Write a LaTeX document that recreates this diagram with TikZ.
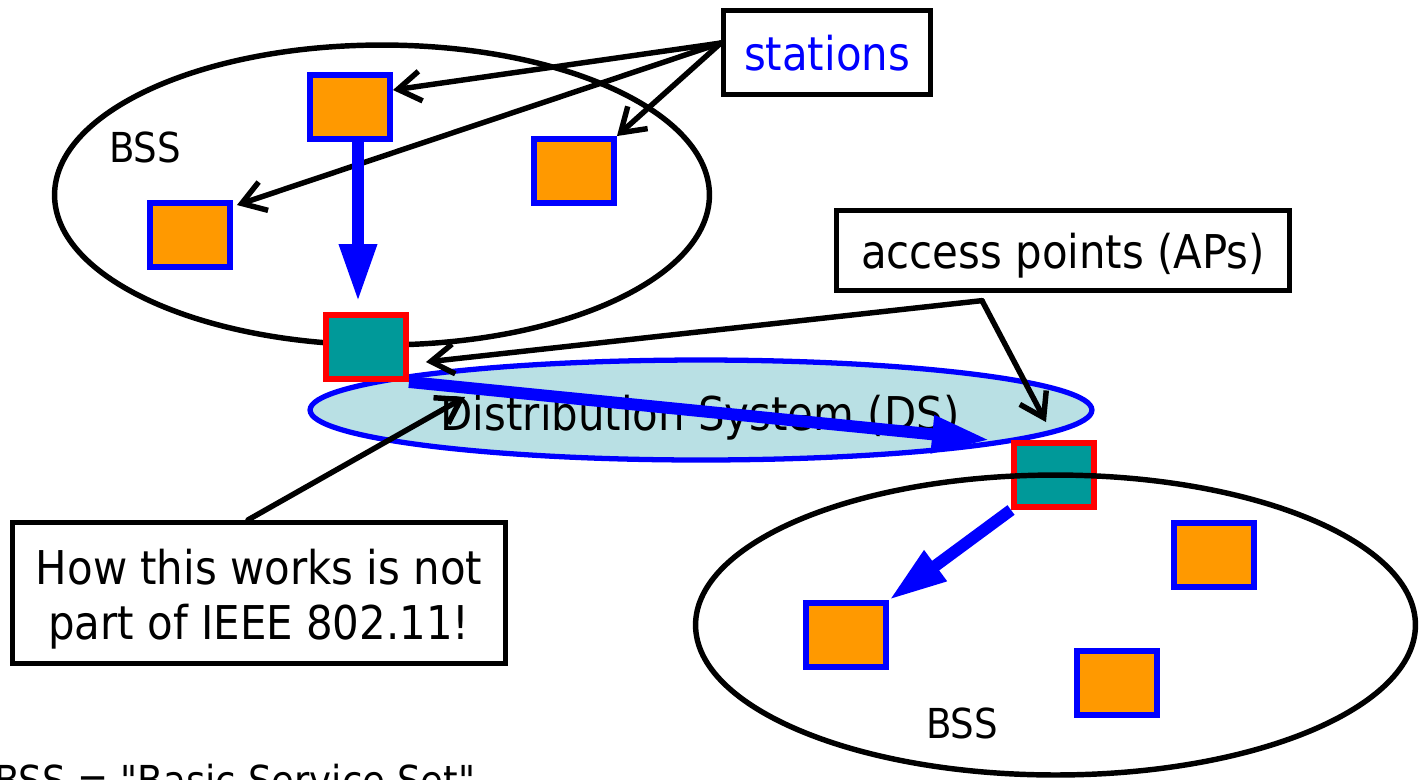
\documentclass[tikz,border=0pt]{standalone}
\usepackage{fontspec}
\setmainfont{DejaVu Sans Condensed}[Ligatures=TeXOff]
\usepackage{tikz}
\usetikzlibrary{arrows.meta,shapes.geometric}
\definecolor{stationorange}{RGB}{255,153,0}
\definecolor{apteal}{RGB}{0,153,153}
\definecolor{dsfill}{RGB}{185,224,228}
\newcommand{\boxfont}{\fontsize{26.5}{31.5}\selectfont}
\newcommand{\bssfont}{\fontsize{23.5}{28}\selectfont}
\tikzset{
	station/.style={draw=blue, fill=stationorange, line width=3.4pt, minimum width=1.6cm, minimum height=1.28cm, inner sep=0pt},
	accesspt/.style={draw=red, fill=apteal, line width=3.4pt, minimum width=1.6cm, minimum height=1.28cm, inner sep=0pt},
	labelbox/.style={draw, fill=white, line width=3pt, inner sep=0pt, font=\boxfont, align=center},
	pointer/.style={line width=3.1pt, line cap=round, -{Straight Barb[length=13pt,width=17pt]}},
	flow/.style={draw=blue, line width=6.8pt, -{Triangle[length=33pt,width=20pt]}}
}

\begin{document}
\begin{tikzpicture}[x=0.02cm, y=-0.02cm]
			%%%%% START %%%%%
			\useasboundingbox (0,0) rectangle (1420,779);
			\fill[white] (0,0) rectangle (1420,779);
			
			% upper BSS
			\draw[line width=3.1pt] (382,195) ellipse [x radius=6.55cm, y radius=3cm];
			\node[font=\bssfont, anchor=base] (bssup) at (145,162) {BSS};
			
			% distribution system
			\node[ellipse, draw=blue, fill=dsfill, line width=3pt, minimum width=15.64cm, minimum height=2cm, inner sep=0pt] (ds) at (701,410) {};
			\node[font=\boxfont, anchor=base] (dstext) at (700,430) {Distribution System (DS)};
			
			\node[station] (s1) at (350,107) {};
			\node[station] (s2) at (574,171) {};
			\node[station] (s3) at (190,235) {};
			\node[accesspt] (ap1) at (366,347) {};
			
			% lower BSS
			\node[accesspt] (ap2) at (1054,475) {};
			\draw[line width=3.1pt] (1055.5,625) ellipse [x radius=7.2cm, y radius=3cm];
			\node[font=\bssfont, anchor=base] (bsslow) at (962,738) {BSS};
			\node[station] (s4) at (1214,555) {};
			\node[station] (s5) at (846,635) {};
			\node[station] (s6) at (1117,683) {};
			
			% callouts
			\node[labelbox, text=blue, text height=24pt, text depth=4pt, minimum width=4.14cm, minimum height=1.68cm] (stations) at (827,52.5) {stations};
			\node[labelbox, text height=24pt, text depth=4pt, minimum width=9.06cm, minimum height=1.6cm] (apbox) at (1063,250.5) {access points (APs)};
			\node[labelbox, minimum width=9.86cm, minimum height=2.82cm] (howbox) at (259,593) {\rule{0pt}{27pt}How this works is not\\part of IEEE 802.11!};
			\node[font=\bssfont, anchor=base west] (legend) at (-12,795) {BSS = "Basic Service Set"};
			
			\coordinate (stfrom) at ([yshift=0.19cm]stations.west);
			\coordinate (apfrom) at ([xshift=-1.62cm,yshift=-0.15cm]apbox.south);
			
			\draw[pointer] (stfrom) -- ([yshift=0.34cm]s1.east);
			\draw[pointer] (stfrom) -- (s2.north east);
			\draw[pointer] (stfrom) -- ([xshift=0.08cm,yshift=-0.1cm]s3.north east);
			
			\draw[pointer] (apfrom) -- ([xshift=0.34cm,yshift=-0.3cm]ap1.east);
			\draw[pointer] (apfrom) -- ([xshift=-0.16cm,yshift=0.36cm]ap2.north);
			
			% frame flow
			\draw[flow] ([xshift=0.16cm]s1.south) -- ([xshift=-0.16cm,yshift=0.2cm]ap1.north);
			\draw[flow] (ap1.south east) -- ([xshift=-0.42cm]ap2.north west);
			\draw[flow] (ap2.south west) -- (s5.north east);
			
			\draw[pointer] ([xshift=-0.22cm]howbox.north) -- ([xshift=-4.72cm,yshift=0.26cm]ds.center);
			%%%%% END %%%%%
\end{tikzpicture}
\end{document}
